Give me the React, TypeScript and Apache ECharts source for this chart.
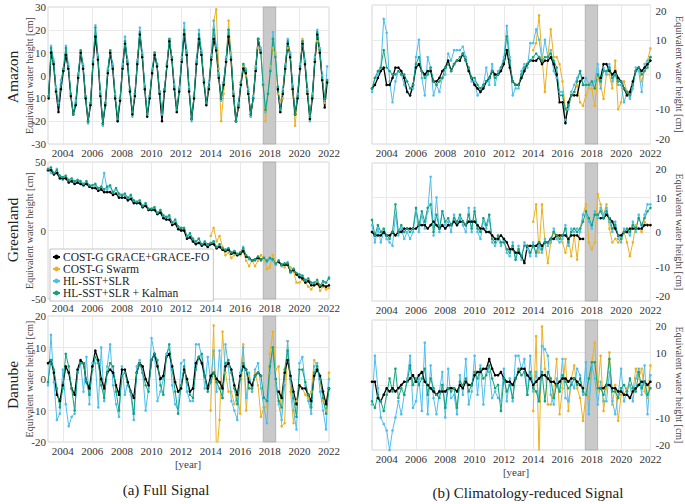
import React, { useEffect, useRef } from "react";
import * as echarts from "echarts";

const X_MIN = 2003;
const X_MAX = 2022;
const X_LABEL_YEARS = [2004, 2006, 2008, 2010, 2012, 2014, 2016, 2018, 2020, 2022];
const GAP_BAND = [2017.55, 2018.4];
const SERIES_NAMES = ["COST-G GRACE+GRACE-FO", "COST-G Swarm", "HL-SST+SLR", "HL-SST+SLR + Kalman"];
const COLORS = ["#000000", "#EDB120", "#4DBEEE", "#13A27B"];
const ROW_LABELS = ["Amazon", "Greenland", "Danube"];
const CAPTIONS = ["(a) Full Signal", "(b) Climatology-reduced Signal"];
const Y_NAME = "Equivalent water height [cm]";
const X_NAME = "[year]";

// ---------- Amazon, full signal (6 samples / year) ----------
const amzFullBlack = [
  -10, 10, 5, -7, -16, -6,
  2, 9, 3, -9, -17, -13,
  -1, 10, 3, -10, -20, -13,
  5, 17, 7, -9, -21, -13,
  1, 10, 3, -10, -20, -11,
  3, 14, 5, -7, -17, -9,
  5, 18, 8, -6, -18, -10,
  1, 9, 4, -8, -20, -7,
  4, 15, 7, -6, -16, -7,
  6, 18, 9, -7, -19, -10,
  5, 16, 9, -3, -13, -6,
  7, 16, 11, -1, -10, -4,
  6, 17, 7, -9, -20, -14,
  -4, 3, 1, -8, -17, -10,
  2, 16, 10, null, null, null,
  null, null, null, -6, -16, -8,
  3, 14, 8, -6, -17, -10,
  3, 14, 5, -8, -19, -10,
  6, 18, 10, -2, -14, -3,
];
const amzFullSwarm = [
  -5,
  9, 24, 29, 3, -20, -8,
  6, 24, 10, -8, -20, -14,
  -4, 4, 0, -8, -18, -10,
  4, 12, 12, -4, -20, -8,
  4, 12, 10, -8, -11, -10,
  4, 12, 10, -6, -22, -10,
  4, 16, 6, -8, -18, -8,
  6, 15, 12, -2, -12, -2,
];
const amzFullHL = [
  -9, 13, 7, -5, -12, -2,
  3, 13, 5, -8, -17, -11,
  1, 11, 5, -9, -21, -12,
  7, 22, 9, -7, -22, -12,
  3, 11, 5, -8, -20, -10,
  5, 17, 7, -6, -18, -8,
  7, 21, 10, -4, -17, -9,
  3, 10, 5, -7, -17, -6,
  5, 16, 8, -4, -16, -5,
  8, 23, 11, -5, -20, -9,
  7, 20, 11, -2, -12, -3,
  9, 24, 13, 1, -11, -3,
  8, 20, 9, -7, -20, -12,
  -3, 5, 3, -6, -18, -9,
  4, 16, 12, -3, -16, -8,
  3, 19, 9, -5, -16, -6,
  5, 16, 10, -4, -17, -8,
  5, 15, 7, -6, -20, -8,
  8, 20, 12, 0, -11, 4,
];
const amzFullKal = [
  -9, 12, 6, -6, -13, -4,
  3, 12, 4, -8, -17, -12,
  0, 11, 4, -9, -20, -12,
  6, 21, 8, -8, -21, -12,
  2, 11, 4, -9, -19, -10,
  4, 15, 6, -6, -16, -8,
  6, 19, 9, -5, -17, -9,
  2, 10, 5, -7, -16, -6,
  5, 16, 8, -5, -15, -6,
  7, 20, 10, -6, -19, -9,
  6, 18, 10, -2, -12, -5,
  8, 20, 12, 0, -10, -3,
  7, 20, 8, -8, -20, -13,
  -3, 5, 2, -7, -17, -10,
  3, 16, 11, -4, -15, -8,
  2, 16, 8, -5, -15, -7,
  4, 15, 9, -5, -17, -9,
  4, 15, 6, -7, -18, -9,
  7, 19, 11, -1, -10, -2,
];

// ---------- Amazon, climatology-reduced (5 samples / year) ----------
const amzClimBlack = [
  -4, -3, -1, 1, 2,
  -3, -3, -1, 2, 2,
  1, -1, -5, -6, -3,
  2, 3, 1, 0, 1,
  1, -2, -2, -1, 1,
  2, 4, 1, 3, 4,
  4, 6, 4, 1, -1,
  -3, -4, -5, -4, -2,
  -1, 1, 0, 0, 1,
  3, 7, 2, -2, -3,
  -3, -1, 1, 3, 4,
  4, 4, 5, 3, 4,
  4, 5, 3, 0, -8,
  -8, -14, -8, -6, -6,
  -6, -2, -1, null, null,
  null, null, null, -1, 3,
  3, 1, 0, 1, -1,
  -2, -4, -6, -5, -2,
  1, 2, 1, 2, 3,
  4,
];
const amzClimSwarm = [
  7, 9, 17, 5, -5,
  5, 13, 5, 5, 3,
  -2, -10, -10, -6, -5,
  -3, -8, -9, -6, -4,
  -4, -9, -1, -3, -7,
  0, 0, -4, 4, -10,
  -8, -2, -5, -6, -3,
  1, 2, -2, 1, 4,
  7.5,
];
const amzClimHL = [
  -5, -1, 0, 2, 16,
  12, -2, -8, -2, 1,
  0, -3, -5, -6, -4,
  5, 10, -1, -6, 5,
  2, -6, -3, -5, -1,
  0, 6, 4, 7, 7,
  7, 8, 5, 1, -2,
  -2, -6, -5, -3, 2,
  -3, 3, -3, 1, 2,
  5, 14, 5, -6, -4,
  -4, 1, 3, 2, 9,
  9, 13, 10, 4, 10,
  5, 7, 1, -1, -5,
  -5, -13, -10, -5, -3,
  -1, 1, -3, -1, -3,
  -3, -2, 3, -4, 2,
  0, 3, -2, 0, -3,
  -3, -8, -5, -7, -4,
  2, 1, -5, 3, 4,
  5,
];
const amzClimKal = [
  -4, -1, 1, 2, 7,
  2, 1, 0, 0, 1,
  0, 0, -2, -4, -3,
  3, 5, 1, -1, 0,
  2, -2, -3, -2, -1,
  2, 3, 1, 3, 4,
  5, 6, 4, 2, -1,
  -1, -3, -4, -3, -2,
  -1, 1, -1, 0, 2,
  4, 11, 4, -2, -3,
  -3, 0, 2, 3, 4,
  5, 6, 5, 4, 5,
  5, 6, 4, 2, -6,
  -6, -10, -9, -6, -5,
  -2, 1, -3, -3, -3,
  -2, -4, 0, -2, 1,
  1, 2, -1, 0, -2,
  -2, -4, -5, -6, -3,
  1, 2, 0, 1, 2,
  5,
];

// ---------- Greenland, full signal ----------
const grlFullBlack = [
  44, 44, 41, 42, 38,
  38, 38, 35, 36, 34,
  35, 34, 33, 34, 32,
  31, 31, 29, 30, 28,
  28, 28, 26, 27, 24,
  24, 24, 22, 23, 20,
  20, 20, 17, 18, 15,
  15, 15, 12, 13, 9,
  8, 8, 4, 5, 1,
  0, 0, -6, -5, -8,
  -10, -9, -11, -10, -12,
  -10, -10, -13, -12, -14,
  -15, -14, -17, -16, -18,
  -17, -15, -19, -20, -22,
  -21, -20, -21, null, null,
  null, null, null, -23, -25,
  -25, -25, -30, -29, -32,
  -34, -35, -38, -37, -40,
  -40, -39, -41, -40, -41,
  -40,
];
const grlFullSwarm = [
  -4, 2, -8, -4, -12,
  -18, -16, -20, -18, -18,
  -18, -15, -22, -26, -22,
  -26, -22, -18, -20, -28,
  -27, -18, -24, -22, -26,
  -27, -24, -27, -30, -38,
  -38, -36, -38, -41, -43,
  -40, -38, -44, -41, -43,
  -42,
];
const grlFullHL = [
  44, 42, 41, 45, 39,
  37, 39, 36, 36, 35,
  36, 35, 33, 35, 32,
  31, 33, 30, 31, 42,
  30, 32, 27, 30, 26,
  25, 26, 23, 25, 21,
  20, 21, 17, 19, 15,
  15, 16, 12, 14, 10,
  9, 10, 5, 7, 2,
  1, 1, -5, -3, -7,
  -9, -6, -11, -9, -11,
  -10, -8, -13, -11, -13,
  -15, -13, -17, -15, -18,
  -17, -12, -19, -21, -22,
  -22, -19, -22, -20, -23,
  -21, -22, -25, -22, -26,
  -25, -23, -31, -28, -32,
  -33, -33, -37, -36, -39,
  -39, -37, -41, -38, -38,
  -34,
];
const grlFullKal = [
  45, 46, 42, 44, 40,
  39, 40, 37, 38, 36,
  37, 36, 34, 36, 33,
  33, 34, 31, 32, 30,
  32, 33, 28, 31, 27,
  26, 27, 24, 26, 22,
  21, 22, 18, 20, 16,
  16, 17, 13, 15, 11,
  10, 11, 6, 8, 3,
  2, 2, -4, -2, -6,
  -8, -6, -10, -8, -10,
  -9, -8, -12, -10, -13,
  -14, -13, -16, -15, -17,
  -16, -13, -18, -20, -22,
  -21, -19, -21, -20, -22,
  -20, -21, -24, -22, -25,
  -24, -24, -30, -28, -31,
  -32, -33, -36, -35, -38,
  -38, -36, -40, -37, -38,
  -35,
];

// ---------- Greenland, climatology-reduced ----------
const grlClimBlack = [
  0, -1, -1, -1, 0,
  -1, -1, 0, -1, 0,
  0, 1, 1, 1, 1,
  1, 2, 2, 2, 1,
  2, 3, 2, 1, 2,
  1, 2, 2, 3, 2,
  3, 3, 2, 3, 3,
  3, 2, 1, 1, 0,
  0, -1, -2, -2, -1,
  -2, -3, -5, -5, -6,
  -6, -7, -9, -4, -4,
  -4, -4, -3, -4, -3,
  -3, -2, -2, -1, -1,
  -1, -1, -2, -1, -1,
  -1, -2, -2, null, null,
  null, null, null, 4, 4,
  5, 4, 3, 1, -1,
  -1, 0, 0, 1, 1,
  1, 1, 1, 2, 2,
  2,
];
const grlClimSwarm = [
  3, 8, -6, 8, -3,
  -9, -3, 0, -2, -1,
  -3, -6, -2, -7, -1,
  -8, 1, 5, 8, -3,
  -5, -3, 11, 8, 5,
  8, 1, -3, -2, -3,
  -2, 0, -3, -7, -3,
  2, 1, 0, 3, 2,
  2,
];
const grlClimHL = [
  2, -3, 1, -3, 0,
  -2, -3, -4, 5, -1,
  1, -2, 0, -2, 0,
  6, 0, 5, 1, 6,
  16, -1, 10, 0, 6,
  2, 3, 0, 5, 2,
  4, 2, 0, 7, 0,
  7, 0, -2, 3, 1,
  4, -3, -4, -2, -4,
  -2, -6, -7, -3, -8,
  -4, -8, -3, -5, -7,
  -3, -7, -4, -6, -2,
  -4, -3, 1, -2, -3,
  -2, 2, -4, 1, 0,
  1, 0, 5, 5, 3,
  1, 6, 4, 7, 5,
  7, 3, 0, 3, -2,
  -3, 1, 0, -1, 3,
  0, 5, 1, 5, 8,
  8,
];
const grlClimKal = [
  3.5, -1, 2, 0, 1,
  -1, -2, 0, 8, 0,
  2, 0, 1, 0, 1,
  7, 2, 6, 3, 7,
  8, 0, 5, 1, 6,
  3, 4, 2, 4, 3,
  5, 3, 2, 5, 1,
  6, 1, 0, 4, 2,
  5, -2, -3, -1, -3,
  -3, -5, -6, -4, -8,
  -5, -7, -4, -4, -6,
  -4, -6, -3, -5, -3,
  -3, -2, 0, -1, -2,
  -1, 1, -3, 0, 1,
  0, 1, 3, 6, 4,
  2, 5, 5, 6, 4,
  6, 4, 1, 2, -1,
  -2, 0, 1, 0, 2,
  1, 4, 2, 4, 6,
  7,
];

// ---------- Danube, full signal ----------
const danFullBlack = [
  5, 6, 2, -5, -7,
  -2, 4, 2, -3, -5,
  3, 6, 5, -1, -3,
  4, 9, 6, 0, -3,
  2, 3, 2, -2, -5,
  3, 3, -1, -4, -6,
  2, 5, 4, 0, -2,
  6, 8, 4, 0, 1,
  7, 8, 4, -1, -4,
  -3, 3, 0, -4, -3,
  5, 7, 5, 1, -3,
  1, 2, 0, -1, -3,
  4, 5, 3, -2, -5,
  1, 4, 3, -1, -2,
  1, 2, 1, null, null,
  null, null, null, -4, -6,
  2, 6, 1, -4, -8,
  -2, -3, -3, -5, -7,
  1, 3, 1, -4, -8,
  -3,
];
const danFullSwarm = [
  -10, 17, -25, -13, 15,
  2, -4, -4, -8, -5,
  -11, 11, -10, 1, -4,
  2, -2, -12, -9, -9,
  8, 15, 3, 4, -15,
  -14, 12, -4, -14, -7,
  -2, -3, -5, -6, -4,
  6, 4, 0, -7, -10,
  2,
];
const danFullHL = [
  -2, 14, -1, -13, -11,
  3, -8, -15, -12, -11,
  3, 5, -4, 7, -8,
  5, 5, -9, 10, -7,
  4, 11, -2, -8, -12,
  4, -5, -1, -5, -13,
  4, 6, 2, -10, -3,
  13, 8, -7, -4, 0,
  8, 10, -2, -8, -10,
  5, 6, -4, -7, -7,
  11, 11, 7, -3, 7,
  -1, 9, -4, 9, -6,
  11, 4, -7, -10, -13,
  2, 10, -6, 2, -4,
  3, 5, -3, -9, -14,
  2, 10, -2, -8, -13,
  -2, 12, 0, -10, -16,
  5, 7, -2, -7, -11,
  4, 5, -4, -10, -16,
  0,
];
const danFullKal = [
  -1, 6, 3, -3, -9,
  -3, 8, 4, -3, -10,
  2, 5, 5, -1, -5,
  3, 7, 5, -2, -6,
  2, 5, 4, -4, -10,
  1, 2, -2, -4, -11,
  2, 5, 2, -2, -4,
  6, 8, 6, -2, -5,
  7, 11, 3, -4, -11,
  -2, 4, -1, -5, -6,
  3, 7, 8, 1, -4,
  -1, 2, -1, -3, -6,
  5, 6, 2, -3, -8,
  0, 5, 3, -3, -3,
  1, 2, 1, -6, -7,
  4, 10, 0, -7, -9,
  3, 9, 0, -6, -12,
  3, 3, -1, -5, -9,
  2, 4, 0, -6, -11,
  -3,
];

// ---------- Danube, climatology-reduced ----------
const danClimBlack = [
  1, 1, -4, -5, -3,
  -1, -2, -1, -2, -1,
  0, 1, 1, 2, 3,
  1, 3, 4, 1, 0,
  -1, -2, -3, -2, -2,
  -2, -1, -1, -1, -2,
  0, -1, 1, 0, 0,
  3, 4, 4, 5, 5,
  8, 5, 3, 3, 4,
  2, 1, 1, 0, 2,
  4, 5, 5, 3, 2,
  0, 1, 2, 3, 3,
  2, 1, 1, 0, 1,
  2, 2, 1, 2, 2,
  1, 0, -1, null, null,
  null, null, null, -1, -1,
  0, 0, -1, -1, -2,
  -2, -3, -3, -4, -2,
  -1, 0, 1, 1, 0,
  1,
];
const danClimSwarm = [
  -8, 15, -22, 18, 5,
  -6, -6, -2, 8, -9,
  -1, 8, -8, 2, 6,
  -1, -4, -11, -3, -4,
  7, 13, -2, 9, -8,
  -1, 10, -6, 0, -11,
  -3, -3, -1, 0, -2,
  5, 2, 5, -2, -4,
  6,
];
const danClimHL = [
  -6, 9, -1, -10, -12,
  -14, -20, -14, -10, -5,
  -9, -3, 2, 9, -7,
  -5, 2, -8, 13, -9,
  6, -4, -9, -2, 4,
  -10, 5, -4, -3, -9,
  3, -3, 8, -6, -2,
  9, -3, 6, -6, 5,
  4, -4, -2, -4, -5,
  5, -5, 2, -5, 9,
  9, 5, 8, -3, 9,
  -2, 4, -5, 12, 11,
  9, -3, -6, 2, -2,
  8, -4, -5, 1, -1,
  5, 3, -3, 7, -9,
  6, 2, -6, 1, -5,
  -5, 4, -5, -9, -3,
  5, -5, -2, 0, -5,
  2, 5, -3, 6, -9,
  3,
];
const danClimKal = [
  -5, -7, -3, -5, -8,
  -3, 2, -2, 5, -4,
  -1, -3, 1, 6, 0,
  2, 0, 2, 5, -3,
  2, -1, -3, -4, 0,
  -7, -1, -2, -1, -7,
  1, 0, 2, -2, 0,
  4, 2, 5, 2, 3,
  6, 2, -1, 0, -8,
  2, -2, 0, -4, 2,
  5, 3, 4, -3, 4,
  -1, -2, -5, 4, -5,
  4, 2, -4, 0, -2,
  3, 1, -1, 0, 2,
  0, 2, -2, -3, 2,
  7, 7, -1, -1, -3,
  0, 8, -2, -2, -4,
  -1, 0, -2, 2, -1,
  -2, 4, -1, 1, -3,
  -1,
];

// panel definitions: sampling and y range
const PANELS = [
  { perYear: 6, offset: 0.25, swarmStart: 65, y: [-30, 30, 10], side: "left", series: [amzFullBlack, amzFullSwarm, amzFullHL, amzFullKal] },
  { perYear: 5, offset: 0, swarmStart: 55, y: [-20, 20, 10], side: "right", series: [amzClimBlack, amzClimSwarm, amzClimHL, amzClimKal] },
  { perYear: 5, offset: 0, swarmStart: 55, y: [-50, 50, 50], side: "left", series: [grlFullBlack, grlFullSwarm, grlFullHL, grlFullKal] },
  { perYear: 5, offset: 0, swarmStart: 55, y: [-20, 20, 10], side: "right", series: [grlClimBlack, grlClimSwarm, grlClimHL, grlClimKal] },
  { perYear: 5, offset: 0, swarmStart: 55, y: [-20, 20, 10], side: "left", series: [danFullBlack, danFullSwarm, danFullHL, danFullKal] },
  { perYear: 5, offset: 0, swarmStart: 55, y: [-20, 20, 10], side: "right", series: [danClimBlack, danClimSwarm, danClimHL, danClimKal] },
];

const GRIDS = [
  { left: 48, top: 7, width: 281, height: 137 },
  { left: 372, top: 5, width: 288, height: 139 },
  { left: 48, top: 162, width: 281, height: 137 },
  { left: 372, top: 163, width: 288, height: 138 },
  { left: 48, top: 316, width: 281, height: 126 },
  { left: 372, top: 320, width: 288, height: 130 },
];

const FONT = "Liberation Serif";
const TEXT_COLOR = "#333";

function toPairs(values: (number | null)[], start: number, perYear: number, offset: number) {
  return values.map((v, i) => [X_MIN + (start + i + offset) / perYear, v]);
}

function buildOption() {
  const xAxis: any[] = [];
  const yAxis: any[] = [];
  const series: any[] = [];
  PANELS.forEach((p, gi) => {
    const right = p.side === "right";
    xAxis.push({
      type: "value",
      gridIndex: gi,
      min: X_MIN,
      max: X_MAX,
      interval: 1,
      axisLine: { show: false },
      axisTick: { show: false },
      axisLabel: {
        fontFamily: FONT,
        fontSize: 11,
        color: TEXT_COLOR,
        margin: 3,
        formatter: (v: number) => (X_LABEL_YEARS.includes(v) ? String(v) : ""),
      },
      splitLine: {
        show: true,
        showMinLine: true,
        showMaxLine: true,
        lineStyle: { color: ["rgba(0,0,0,0)", "#e9e9e9"], width: 1 },
      },
    });
    yAxis.push({
      type: "value",
      gridIndex: gi,
      min: p.y[0],
      max: p.y[1],
      interval: p.y[2],
      position: p.side,
      name: Y_NAME,
      nameLocation: "middle",
      nameRotate: right ? -90 : 90,
      nameGap: right ? 15 : 14,
      nameMoveOverlap: right ? undefined : false,
      nameTextStyle: { fontFamily: FONT, fontSize: 10, color: "#444" },
      axisLine: { show: false },
      axisTick: { show: false },
      axisLabel: {
        fontFamily: FONT,
        fontSize: 11,
        color: TEXT_COLOR,
        margin: right ? 5 : 2,
        verticalAlignMinLabel: right ? "bottom" : undefined,
        verticalAlignMaxLabel: right ? "top" : undefined,
      },
      splitLine: { show: true, lineStyle: { color: "#e9e9e9", width: 1 } },
    });
    const order = [1, 2, 0, 3];
    order.forEach((k) => {
      const start = k === 1 ? p.swarmStart : 0;
      series.push({
        type: "line",
        name: SERIES_NAMES[k],
        xAxisIndex: gi,
        yAxisIndex: gi,
        data: toPairs(p.series[k], start, p.perYear, p.offset),
        symbol: "circle",
        symbolSize: 2.6,
        showSymbol: true,
        connectNulls: false,
        clip: true,
        lineStyle: { color: COLORS[k], width: k === 0 ? 1.3 : 1 },
        itemStyle: { color: COLORS[k] },
        emphasis: { disabled: true },
        z: 2,
      });
    });
    series.push({
      type: "line",
      name: "gap",
      xAxisIndex: gi,
      yAxisIndex: gi,
      data: [],
      z: 5,
      markArea: {
        silent: true,
        itemStyle: { color: "#c9c9c9", borderColor: "#9a9a9a", borderWidth: 0.6 },
        data: [[{ xAxis: GAP_BAND[0] }, { xAxis: GAP_BAND[1] }]],
      },
    });
  });

  const graphic: any[] = [];
  const rowCenters = [77, 230, 385];
  const txt = (x: number, y: number, text: string, size: number, fill: string, rotation = 0) => ({
    type: "text",
    x,
    y,
    rotation,
    style: { text, fontFamily: FONT, fontSize: size, fill, align: "center", verticalAlign: "middle" },
  });
  ROW_LABELS.forEach((t, i) => graphic.push(txt(12, rowCenters[i], t, 15.5, "#222", Math.PI / 2)));
  graphic.push(txt(188, 464, X_NAME, 11, "#444"));
  graphic.push(txt(516, 472, X_NAME, 11, "#444"));
  graphic.push(txt(166, 490, CAPTIONS[0], 15, "#222"));
  graphic.push(txt(528, 493, CAPTIONS[1], 15, "#222"));

  return {
    animation: false,
    backgroundColor: "#ffffff",
    textStyle: { fontFamily: FONT },
    grid: GRIDS.map((g) => ({ ...g, show: true, borderColor: "#d6d6d6", borderWidth: 1, backgroundColor: "transparent" })),
    xAxis,
    yAxis,
    series,
    graphic,
    legend: {
      data: SERIES_NAMES,
      orient: "vertical",
      left: 50,
      top: 249,
      itemGap: 0,
      itemWidth: 7,
      itemHeight: 6,
      padding: [2, 4, 2, 2],
      backgroundColor: "#ffffff",
      borderColor: "#b5b5b5",
      borderWidth: 0.8,
      borderRadius: 0,
      selectedMode: false,
      textStyle: { fontFamily: FONT, fontSize: 11.5, color: "#222", padding: [0, 0, 0, -2], lineHeight: 11 },
    },
  };
}

export default function App() {
  const ref = useRef<HTMLDivElement>(null);
  useEffect(() => {
    if (!ref.current) return;
    const chart = echarts.init(ref.current, undefined, { renderer: "svg" });
    chart.setOption(buildOption() as any);
    return () => chart.dispose();
  }, []);
  return (
    <div
      ref={ref}
      style={{ position: "absolute", left: 0, top: 0, width: 685, height: 504, background: "#fff" }}
    />
  );
}
